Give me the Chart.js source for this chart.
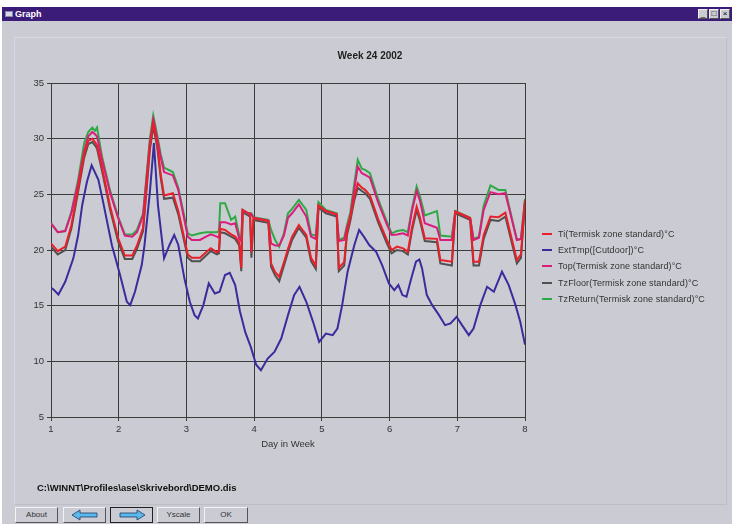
<!DOCTYPE html>
<html>
<head>
<meta charset="utf-8">
<script src="https://cdn.jsdelivr.net/npm/chart.js@4.4.0/dist/chart.umd.min.js"></script>
<style>
  html, body { margin:0; padding:0; background:#ffffff; }
  body { width:734px; height:524px; position:relative; overflow:hidden; font-family:"Liberation Sans", Arial, sans-serif; }
  #win { position:absolute; left:2px; top:7px; width:730px; height:517px; background:#cbcbd3; }
  #titlebar { position:absolute; left:0; top:0; width:730px; height:14px; background:#3b1c78; }
  #titlebar .t { position:absolute; left:13px; top:1px; color:#fff; font-size:9px; font-weight:bold; line-height:12px; }
  #titlebar .ico { position:absolute; left:3px; top:4px; width:8px; height:6px; background:#d8d8e8; border:1px solid #8888aa; box-sizing:border-box; }
  .wb { position:absolute; top:2px; width:10px; height:10px; background:#cbcbd3; border:1px solid #eee; border-right-color:#555; border-bottom-color:#555; box-sizing:border-box; font-size:8px; line-height:8px; text-align:center; color:#000; }
  #panel { position:absolute; left:12px; top:30px; width:713px; height:468px; border:1px solid #d8d8de; border-right-color:#bdbdc5; border-bottom-color:#bdbdc5; box-sizing:border-box; }
  #chart { position:absolute; left:0; top:0; }
  #ctitle { position:absolute; left:0; width:734px; top:50px; text-align:center; font-size:10px; font-weight:bold; color:#222; padding-left:6px; box-sizing:border-box; }
  #legend { position:absolute; left:542px; top:228px; }
  .li { position:absolute; left:0; height:12px; white-space:nowrap; font-size:9px; color:#333; line-height:12px; letter-spacing:0.1px; }
  .li i { position:absolute; left:0; top:5px; width:10px; height:2px; }
  .li span { position:absolute; left:16px; top:0; }
  #path { position:absolute; left:37px; top:482px; font-size:9.5px; font-weight:bold; color:#111; }
  .btn { position:absolute; top:507px; height:16px; background:#cbcbd3; border:1px solid #f2f2f6; border-right-color:#555; border-bottom-color:#555; box-sizing:border-box; font-size:8px; color:#333; text-align:center; line-height:14px; }
  .btn.sel { border:1px solid #222; }
</style>
</head>
<body>
<div id="win">
  <div id="titlebar"><div class="ico"></div><div class="t">Graph</div>
    <div class="wb" style="left:696px;">_</div><div class="wb" style="left:707px;">&#9633;</div><div class="wb" style="left:718px;">&#215;</div>
  </div>
  <div id="panel"></div>
</div>
<canvas id="chart" width="734" height="524"></canvas>
<div id="ctitle">Week 24 2002</div>
<div id="legend"></div>
<div id="path">C:\WINNT\Profiles\ase\Skrivebord\DEMO.dis</div>
<div class="btn" style="left:15px;width:43px;">About</div>
<div class="btn" style="left:63px;width:43px;"><svg width="30" height="12" viewBox="0 0 30 12" style="margin-top:1px"><path d="M2 6 L10 1 L10 4 L27 4 L27 8 L10 8 L10 11 Z" fill="#5ab8ea" stroke="#1a3a6a" stroke-width="0.8"/></svg></div>
<div class="btn sel" style="left:110px;width:43px;"><svg width="30" height="12" viewBox="0 0 30 12" style="margin-top:1px"><path d="M28 6 L20 1 L20 4 L3 4 L3 8 L20 8 L20 11 Z" fill="#5ab8ea" stroke="#1a3a6a" stroke-width="0.8"/></svg></div>
<div class="btn" style="left:157px;width:43px;">Yscale</div>
<div class="btn" style="left:204px;width:44px;">OK</div>

<script>
// ---- data (days in week, temperatures °C) ----
const warmDays = [1.00,1.10,1.21,1.30,1.40,1.49,1.55,1.61,1.65,1.68,1.75,1.87,1.99,2.09,2.20,2.27,2.36,2.46,2.51,2.57,2.62,2.67,2.80,2.88,3.02,3.08,3.20,3.29,3.36,3.45,3.48,3.50,3.57,3.66,3.72,3.78,3.81,3.83,3.91,3.94,3.96,3.99,4.21,4.25,4.31,4.37,4.44,4.50,4.56,4.66,4.77,4.84,4.91,4.95,5.06,5.22,5.25,5.33,5.37,5.42,5.48,5.53,5.59,5.64,5.71,5.83,5.96,6.03,6.11,6.20,6.27,6.33,6.40,6.45,6.52,6.70,6.75,6.92,6.97,7.19,7.24,7.32,7.39,7.49,7.61,7.71,7.88,7.94,8.00];
const tiValues = [20.6,19.9,20.3,22.2,25.5,28.6,29.8,30.0,29.7,29.4,27.5,24.0,21.1,19.5,19.5,20.4,22.0,29.3,31.4,29.5,26.8,24.9,25.1,23.5,19.6,19.3,19.3,19.8,20.15,19.8,19.9,21.9,21.8,21.4,21.2,20.7,18.4,23.6,23.3,23.2,19.8,22.85,22.6,18.8,18.0,17.6,18.9,20.1,21.2,22.25,21.35,19.3,18.6,24.0,23.5,23.2,18.4,18.9,21.6,22.9,24.8,26.0,25.6,25.4,24.9,22.8,20.9,20.0,20.3,20.15,19.85,22.0,23.9,22.9,21.05,21.0,19.1,18.95,23.45,22.85,18.95,18.95,21.35,23.0,22.95,23.35,19.1,19.6,24.5];
const topValues = [22.4,21.6,21.7,23.3,26.0,28.9,30.2,30.6,30.4,30.2,28.2,25.2,22.9,21.3,21.2,21.6,23.1,29.6,31.7,30.0,28.3,27.0,26.7,25.4,21.2,20.9,20.9,21.2,21.4,21.2,21.1,22.5,22.5,22.3,22.4,21.0,20.8,23.6,23.3,23.3,23.2,22.9,22.65,20.6,20.4,20.4,21.3,22.9,23.3,24.1,23.0,21.2,21.0,24.0,23.5,23.2,20.8,20.9,22.0,23.0,25.5,27.5,26.9,26.75,26.5,24.3,22.3,21.35,21.4,21.5,21.3,23.5,25.3,24.4,22.4,22.0,20.9,20.9,23.45,22.85,20.9,21.1,23.6,25.2,25.0,25.1,20.9,21.0,24.3];
const floorValues = [20.3,19.6,20.0,21.9,25.2,28.3,29.5,29.7,29.4,29.1,27.2,23.7,20.8,19.2,19.2,20.1,21.7,29.0,31.1,29.2,26.5,24.6,24.7,23.2,19.3,19.0,19.0,19.5,19.9,19.6,19.7,21.6,21.5,21.2,21.0,20.4,18.1,23.4,23.1,23.0,19.3,22.7,22.45,18.5,17.7,17.2,18.6,19.8,20.9,22.0,21.1,19.0,18.3,23.8,23.3,23.0,18.1,18.6,21.3,22.6,24.5,25.6,25.3,25.1,24.6,22.5,20.6,19.7,20.0,19.9,19.6,21.7,23.6,22.6,20.8,20.7,18.8,18.6,23.3,22.7,18.6,18.6,21.0,22.7,22.6,23.0,18.8,19.3,24.3];
const returnValues = [22.4,21.6,21.7,23.4,26.3,29.6,30.6,31.0,30.7,31.0,28.5,25.4,23.0,21.4,21.4,21.8,23.3,30.0,32.1,30.3,28.6,27.4,27.0,25.6,21.5,21.3,21.5,21.6,21.6,21.6,21.7,24.2,24.2,22.7,23.0,21.3,21.0,23.6,23.3,23.3,23.3,22.95,22.7,21.8,20.9,20.3,21.5,23.3,23.7,24.5,23.6,21.4,21.3,24.3,23.6,23.3,20.9,21.1,22.2,23.4,26.0,28.1,27.3,27.2,26.9,24.6,22.55,21.5,21.7,21.8,21.6,23.7,25.7,24.8,23.1,23.5,21.3,21.2,23.5,22.9,21.0,21.2,24.0,25.8,25.4,25.4,20.9,21.0,24.6];
const extDays = [1.00,1.03,1.11,1.21,1.33,1.40,1.46,1.53,1.60,1.70,1.77,1.90,2.02,2.12,2.17,2.24,2.34,2.38,2.46,2.52,2.58,2.67,2.75,2.82,2.88,2.97,3.05,3.12,3.17,3.25,3.33,3.42,3.49,3.57,3.64,3.72,3.79,3.87,3.95,4.03,4.10,4.20,4.30,4.40,4.50,4.59,4.67,4.77,4.87,4.96,5.06,5.16,5.23,5.30,5.38,5.48,5.55,5.62,5.70,5.80,5.89,5.99,6.07,6.13,6.19,6.25,6.32,6.39,6.44,6.48,6.55,6.63,6.73,6.82,6.90,6.99,7.07,7.17,7.24,7.34,7.44,7.54,7.66,7.76,7.86,7.93,8.00];
const extValues = [16.6,16.5,16.0,17.15,19.25,21.3,24.0,26.1,27.6,26.3,24.3,20.4,17.75,15.35,15.05,16.25,18.65,20.4,25.2,29.6,24.0,19.25,20.45,21.35,20.45,17.45,15.35,14.15,13.85,15.05,17.0,16.1,16.25,17.75,17.95,16.85,14.5,12.6,11.3,9.7,9.2,10.25,10.85,12.05,14.15,15.95,16.7,15.35,13.55,11.75,12.5,12.35,12.95,15.05,18.05,20.45,21.8,21.2,20.45,19.85,18.65,17.0,16.4,16.85,15.95,15.8,17.45,18.95,19.15,18.35,15.95,15.05,14.15,13.25,13.4,14.0,13.25,12.35,12.95,15.05,16.7,16.25,18.05,16.85,15.05,13.55,11.5];
const seriesNames = ["Ti(Termisk zone standard)°C","ExtTmp([Cutdoor])°C","Top(Termisk zone standard)°C","TzFloor(Termisk zone standard)°C","TzReturn(Termisk zone standard)°C"];
const seriesColors = ["#e8202a","#3a2c9c","#dc1c7c","#505050","#2eaa44"];
const xTicks = [1,2,3,4,5,6,7,8];
const yTicks = [5,10,15,20,25,30,35];

function pts(xs, ys){ return xs.map((x,i)=>({x:x, y:ys[i]})); }

const seriesData = [
  pts(warmDays, tiValues),
  pts(extDays, extValues),
  pts(warmDays, topValues),
  pts(warmDays, floorValues),
  pts(warmDays, returnValues)
];

const datasets = seriesNames.map((n,i)=>({
  label:n, data:seriesData[i], borderColor:seriesColors[i], backgroundColor:seriesColors[i],
  borderWidth:2, pointRadius:0, tension:0, fill:false
}));

const gridCol = "#3c3c3c";
const tickFont = {family:"Liberation Sans", size:9.5};

new Chart(document.getElementById('chart'), {
  type:'line',
  data:{datasets},
  options:{
    responsive:false, animation:false, devicePixelRatio:1,
    layout:{padding:{left:31, top:83, right:209, bottom:74}},
    plugins:{legend:{display:false}, tooltip:{enabled:false}, title:{display:false}},
    scales:{
      x:{type:'linear', min:1, max:8,
         afterFit:s=>{s.height=33;},
         afterBuildTicks:s=>{s.ticks=xTicks.map(v=>({value:v}));},
         ticks:{color:'#333', font:tickFont, padding:3, maxRotation:0},
         grid:{color:gridCol, lineWidth:1, tickLength:4},
         border:{color:gridCol, width:1},
         title:{display:true, text:'Day in Week', color:'#333', font:tickFont, padding:{top:0,bottom:0}}},
      y:{type:'linear', min:5, max:35,
         afterFit:s=>{s.width=20;},
         afterBuildTicks:s=>{s.ticks=yTicks.map(v=>({value:v}));},
         ticks:{color:'#333', font:tickFont, padding:3},
         grid:{color:gridCol, lineWidth:1, tickLength:4},
         border:{color:gridCol, width:1}}
    }
  },
  plugins:[{id:'rightBorder', afterDraw(c){const a=c.chartArea,x=c.ctx;x.save();x.strokeStyle=gridCol;x.lineWidth=1;x.beginPath();x.moveTo(Math.round(a.right)+0.5,a.top);x.lineTo(Math.round(a.right)+0.5,a.bottom);x.moveTo(a.left,Math.round(a.top)+0.5);x.lineTo(a.right,Math.round(a.top)+0.5);x.stroke();x.restore();}}]
});

// legend built from the same series definitions
const lg = document.getElementById('legend');
seriesNames.forEach((n,i)=>{
  const d=document.createElement('div'); d.className='li'; d.style.top=(i*16.2)+'px';
  d.innerHTML='<i style="background:'+seriesColors[i]+'"></i><span></span>';
  d.querySelector('span').textContent=n; lg.appendChild(d);
});
</script>
</body>
</html>
